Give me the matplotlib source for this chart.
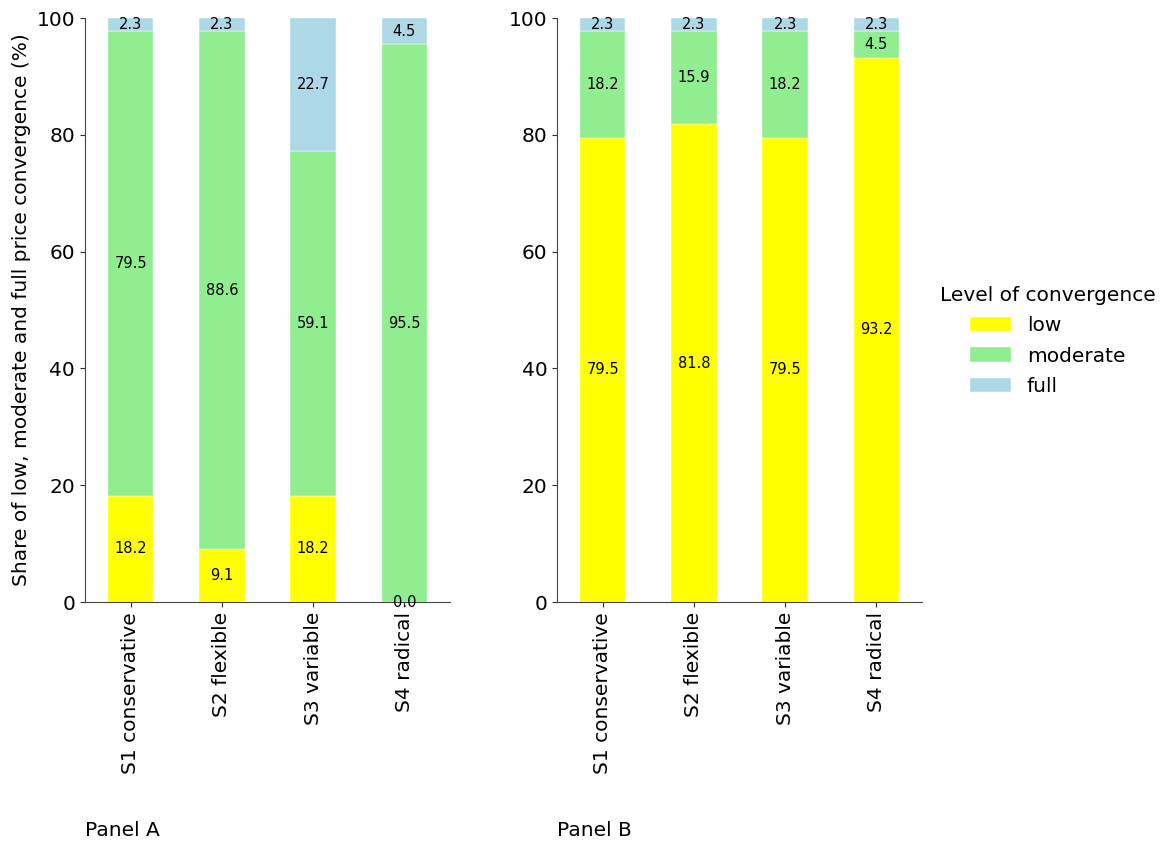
import matplotlib
matplotlib.use("Agg")
import matplotlib.pyplot as plt
import numpy as np

scenarios = ["S1 conservative", "S2 flexible", "S3 variable", "S4 radical"]
levels = ["low", "moderate", "full"]
colors = ["yellow", "lightgreen", "lightblue"]

panel_a_low = [18.2, 9.1, 18.2, 0.0]
panel_a_moderate = [79.5, 88.6, 59.1, 95.5]
panel_a_full = [2.3, 2.3, 22.7, 4.5]

panel_b_low = [79.5, 81.8, 79.5, 93.2]
panel_b_moderate = [18.2, 15.9, 18.2, 4.5]
panel_b_full = [2.3, 2.3, 2.3, 2.3]

FS = 14.5

fig = plt.figure(figsize=(11.64, 8.42), dpi=100)
ax_a = fig.add_axes([0.073, 0.285, 0.3136, 0.6936])
ax_b = fig.add_axes([0.4785, 0.285, 0.3136, 0.6936])


def draw_panel(ax, series):
    x = np.arange(len(scenarios))
    bottom = np.zeros(len(scenarios))
    handles = []
    for vals, col, lab in zip(series, colors, levels):
        vals = np.array(vals)
        bars = ax.bar(x, vals, 0.5, bottom=bottom, color=col, label=lab,
                      edgecolor="white", linewidth=0.3)
        handles.append(bars)
        for xi, b, v in zip(x, bottom, vals):
            ax.text(xi, b + v / 2, f"{v:.1f}", ha="center", va="center",
                    fontsize=10.5, color="black")
        bottom = bottom + vals
    ax.set_xlim(-0.5, 3.5)
    ax.set_ylim(0, 100)
    ax.set_xticks(x)
    ax.set_xticklabels(scenarios, rotation=90, fontsize=FS)
    ax.tick_params(axis="y", labelsize=FS)
    ax.tick_params(colors="#333333", labelcolor="black")
    for side in ("left", "bottom"):
        ax.spines[side].set_color("#444444")
    ax.spines["top"].set_visible(False)
    ax.spines["right"].set_visible(False)
    return handles


handles = draw_panel(ax_a, [panel_a_low, panel_a_moderate, panel_a_full])
draw_panel(ax_b, [panel_b_low, panel_b_moderate, panel_b_full])

ax_a.set_ylabel("Share of low, moderate and full price convergence (%)", fontsize=FS)

fig.text(85 / 1164, 1 - 830 / 842, "Panel A", fontsize=FS, va="center", ha="left")
fig.text(557 / 1164, 1 - 830 / 842, "Panel B", fontsize=FS, va="center", ha="left")

fig.legend(handles, levels, title="Level of convergence", loc="center left",
           bbox_to_anchor=(0.792, 0.595), frameon=False, fontsize=FS,
           title_fontsize=FS, handlelength=2.0, labelspacing=0.55)

fig.savefig("out.png", dpi=100)
